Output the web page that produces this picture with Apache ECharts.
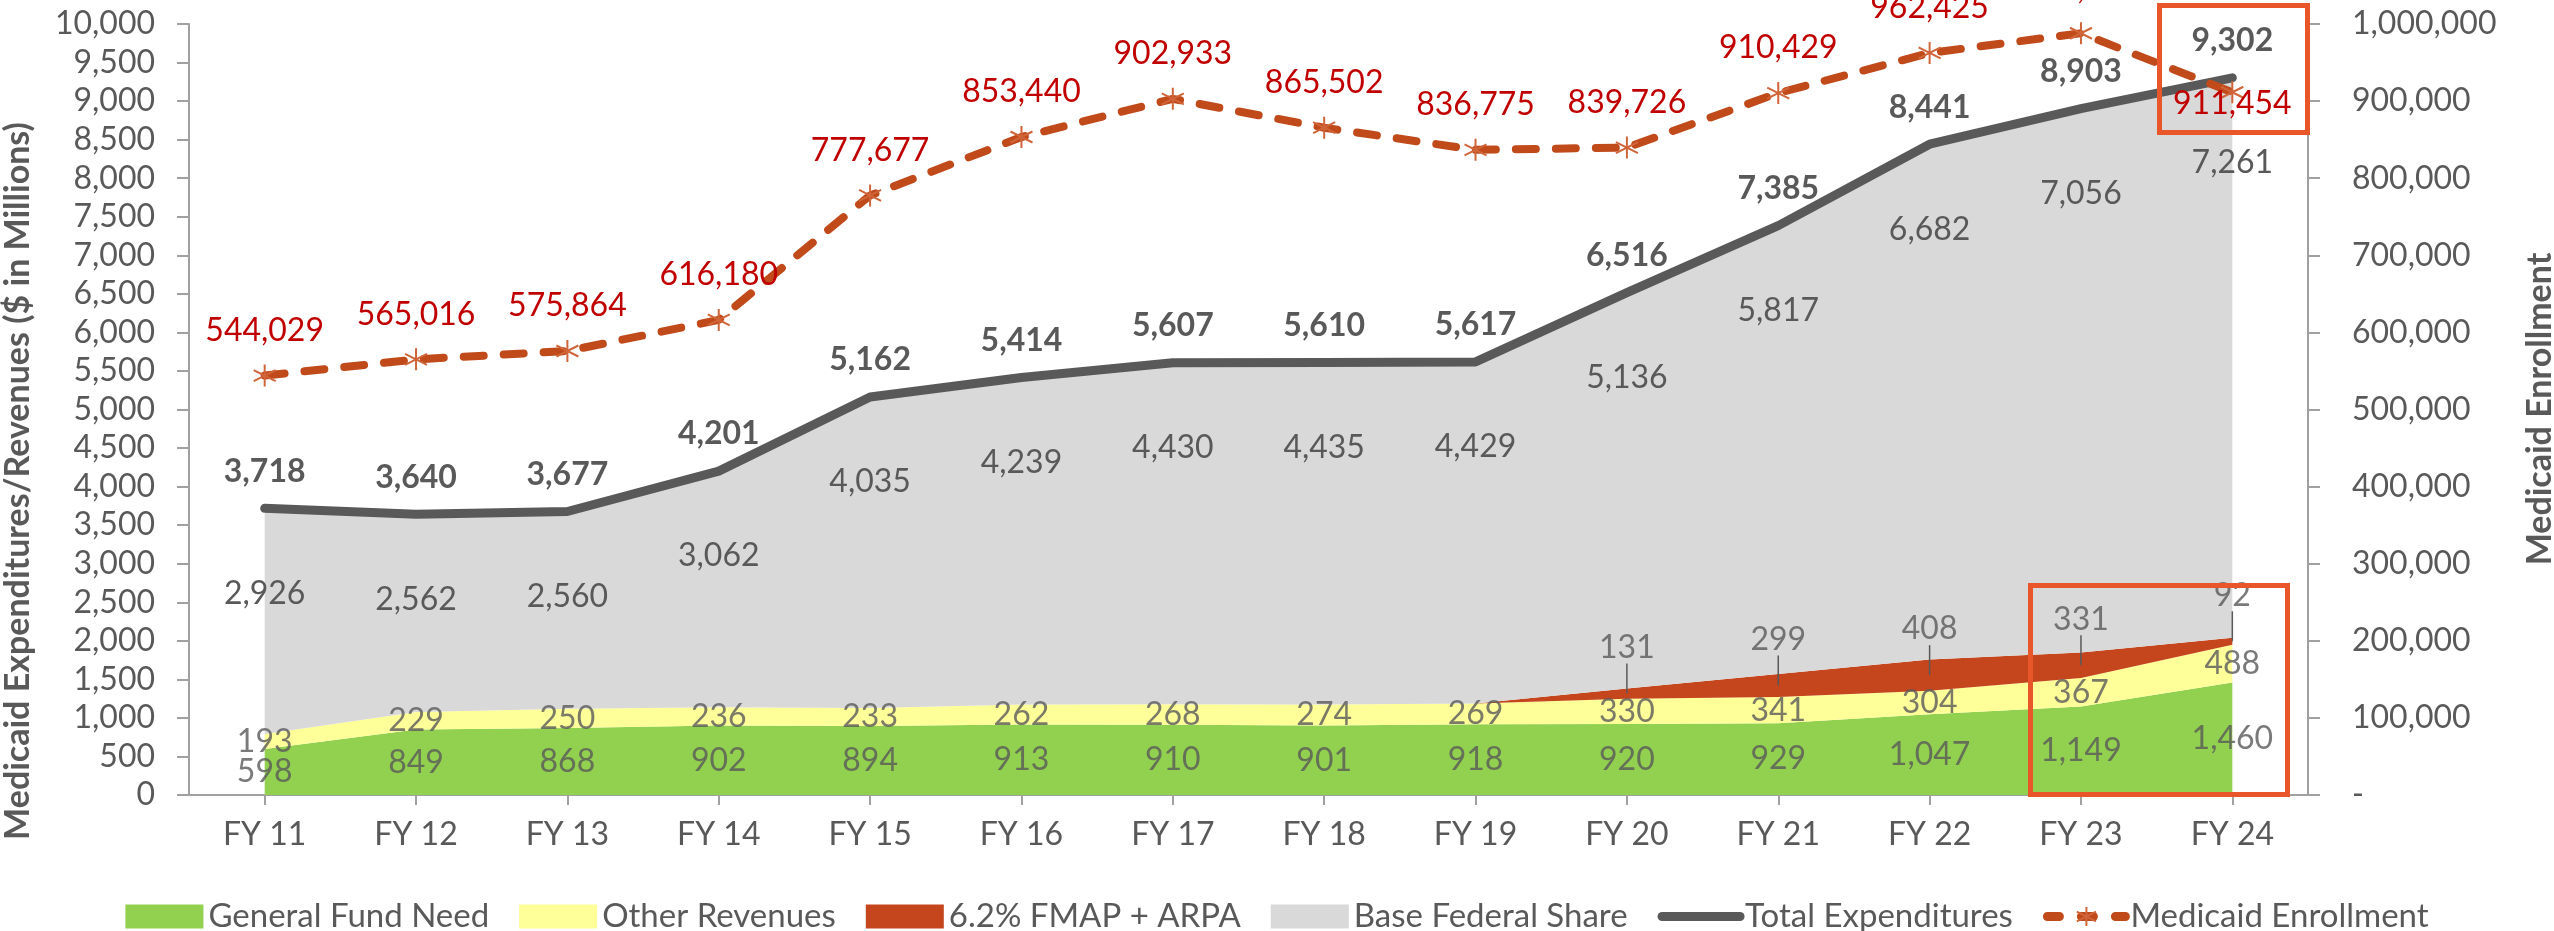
<!DOCTYPE html>
<html>
<head>
<meta charset="utf-8">
<title>Medicaid Expenditures and Enrollment</title>
<script src="https://cdn.jsdelivr.net/npm/echarts@6/dist/echarts.min.js"></script>
<style>
  html, body { margin: 0; padding: 0; background: #fff; }
  #chart { width: 2554px; height: 931px; }
</style>
</head>
<body>
<div id="chart"></div>
<script>
// data
const categories = ['FY 11', 'FY 12', 'FY 13', 'FY 14', 'FY 15', 'FY 16', 'FY 17',
  'FY 18', 'FY 19', 'FY 20', 'FY 21', 'FY 22', 'FY 23', 'FY 24']
const generalFund = [598, 849, 868, 902, 894, 913, 910, 901, 918, 920, 929, 1047, 1149, 1460]
const otherRevenues = [193, 229, 250, 236, 233, 262, 268, 274, 269, 330, 341, 304, 367, 488]
const fmapArpa = [0, 0, 0, 0, 0, 0, 0, 0, 0, 131, 299, 408, 331, 92]
const baseFederal = [2926, 2562, 2560, 3062, 4035, 4239, 4430, 4435, 4429, 5136, 5817, 6682, 7056, 7261]
const totalExp = [3718, 3640, 3677, 4201, 5162, 5414, 5607, 5610, 5617, 6516, 7385, 8441, 8903, 9302]
const enrollment = [544029, 565016, 575864, 616180, 777677, 853440, 902933, 865502, 836775, 839726,
  910429, 962425, 988000, 911454]

const FONT = 'Lato'
const GREY_TEXT = '#595959'
const ENROLL = '#C04A1A'
const fmt = v => Number(v).toLocaleString('en-US')

// label anchors in the middle of each band (derived from the stacks)
const greenMid = generalFund.map((v, i) => [i, v / 2, v])
const yellowMid = otherRevenues.map((v, i) => [i, generalFund[i] + v / 2, v])
const redMid = fmapArpa.map((v, i) => v ? [i, generalFund[i] + otherRevenues[i] + v / 2, v] : null)
  .filter(d => d)

const bandLabel = {
  show: true,
  position: 'inside',
  color: GREY_TEXT,
  fontFamily: FONT,
  fontSize: 32,
  formatter: p => fmt(p.value[2])
}

function areaSeries (name, data, color) {
  return {
    name: name,
    type: 'line',
    stack: 'money',
    data: data,
    symbol: 'circle',
    symbolSize: 0,
    lineStyle: { width: 0 },
    itemStyle: { color: color },
    areaStyle: { color: color, opacity: 1 },
    silent: true,
    z: 1
  }
}

const gray = areaSeries('Base Federal Share', baseFederal, '#D9D9D9')
gray.label = {
  show: true,
  position: 'bottom',
  distance: 69,
  color: GREY_TEXT,
  fontFamily: FONT,
  fontSize: 32,
  formatter: p => fmt(p.value)
}

const chart = echarts.init(document.getElementById('chart'))
chart.setOption({
  animation: false,
  backgroundColor: '#fff',
  textStyle: { fontFamily: FONT },
  grid: { left: 189, right: 246, top: 24, bottom: 136, containLabel: false, outerBoundsMode: 'none' },
  legend: {
    top: 895,
    left: 'center',
    itemWidth: 78,
    itemHeight: 24,
    itemGap: 30,
    textStyle: { fontFamily: FONT, fontSize: 33, color: GREY_TEXT },
    data: [
      { name: 'General Fund Need', icon: 'rect' },
      { name: 'Other Revenues', icon: 'rect' },
      { name: '6.2% FMAP + ARPA', icon: 'rect' },
      { name: 'Base Federal Share', icon: 'rect' },
      {
        name: 'Total Expenditures',
        itemStyle: { color: 'rgba(0,0,0,0)', borderWidth: 0 },
        lineStyle: { color: '#595959', width: 9, cap: 'round' }
      },
      {
        name: 'Medicaid Enrollment',
        itemStyle: { color: ENROLL, borderColor: '#D0653A', borderWidth: 2 },
        lineStyle: { color: ENROLL, width: 9, type: [12, 22], cap: 'round' }
      }
    ]
  },
  xAxis: {
    type: 'category',
    data: categories,
    boundaryGap: true,
    axisLine: { show: true, lineStyle: { color: '#A0A0A0', width: 2 } },
    axisTick: { show: true, alignWithLabel: true, length: 10, lineStyle: { color: '#A0A0A0', width: 2 } },
    axisLabel: { interval: 0, margin: 24, color: GREY_TEXT, fontFamily: FONT, fontSize: 32 },
    splitLine: { show: false }
  },
  yAxis: [
    {
      type: 'value',
      min: 0,
      max: 10000,
      interval: 500,
      axisLine: { show: true, lineStyle: { color: '#A0A0A0', width: 2 } },
      axisTick: { show: true, length: 12, lineStyle: { color: '#A0A0A0', width: 2 } },
      axisLabel: { margin: 34, color: GREY_TEXT, fontFamily: FONT, fontSize: 32, formatter: v => fmt(v) },
      splitLine: { show: false }
    },
    {
      type: 'value',
      position: 'right',
      min: 0,
      max: 1000000,
      interval: 100000,
      axisLine: { show: true, lineStyle: { color: '#A0A0A0', width: 2 } },
      axisTick: { show: true, length: 12, lineStyle: { color: '#A0A0A0', width: 2 } },
      axisLabel: {
        margin: 44,
        color: GREY_TEXT,
        fontFamily: FONT,
        fontSize: 32,
        formatter: v => v === 0 ? '-' : fmt(v)
      },
      splitLine: { show: false }
    }
  ],
  series: [
    areaSeries('General Fund Need', generalFund, '#92D050'),
    areaSeries('Other Revenues', otherRevenues, '#FFFF99'),
    areaSeries('6.2% FMAP + ARPA', fmapArpa, '#C5461C'),
    gray,
    {
      name: 'Total Expenditures',
      type: 'line',
      data: totalExp,
      symbol: 'circle',
      symbolSize: 0,
      lineStyle: { color: '#595959', width: 9, cap: 'round', join: 'round' },
      itemStyle: { color: '#595959' },
      label: {
        show: true,
        position: 'top',
        distance: 21,
        color: GREY_TEXT,
        fontFamily: FONT,
        fontSize: 32,
        fontWeight: 'bold',
        formatter: p => fmt(p.value)
      },
      z: 5
    },
    {
      name: 'Medicaid Enrollment',
      type: 'line',
      yAxisIndex: 1,
      data: enrollment.map((v, i) => i === enrollment.length - 1
        ? { value: v, label: { position: 'inside', offset: [0, 11] } }
        : v),
      symbol: 'path://M10,0 L10,20 M1,5 L19,15 M1,15 L19,5',
      symbolSize: 22,
      itemStyle: { color: ENROLL, borderColor: '#D0653A', borderWidth: 2 },
      lineStyle: { color: ENROLL, width: 8, type: [20, 20], cap: 'round' },
      label: {
        show: true,
        position: 'top',
        distance: 17,
        color: '#C00000',
        fontFamily: FONT,
        fontSize: 32,
        formatter: p => fmt(p.value)
      },
      z: 6
    },
    {
      name: 'gfLabels',
      type: 'scatter',
      data: greenMid,
      symbolSize: 0,
      silent: true,
      label: bandLabel,
      z: 7
    },
    {
      name: 'orLabels',
      type: 'scatter',
      data: yellowMid,
      symbolSize: 0,
      silent: true,
      label: bandLabel,
      z: 7
    },
    {
      name: 'fmapLabels',
      type: 'scatter',
      data: redMid,
      symbolSize: 1,
      silent: true,
      label: bandLabel,
      labelLayout: { dy: -46 },
      labelLine: { show: true, lineStyle: { color: '#595959', width: 1.5 } },
      z: 7
    }
  ],
  graphic: [
    {
      type: 'text',
      x: 18,
      y: 481,
      rotation: Math.PI / 2,
      style: {
        text: 'Medicaid Expenditures/Revenues ($ in Millions)',
        font: 'bold 34px Lato',
        fill: GREY_TEXT,
        align: 'center',
        verticalAlign: 'middle'
      }
    },
    {
      type: 'text',
      x: 2540,
      y: 409,
      rotation: Math.PI / 2,
      style: {
        text: 'Medicaid Enrollment',
        font: 'bold 34px Lato',
        fill: GREY_TEXT,
        align: 'center',
        verticalAlign: 'middle'
      }
    },
    {
      type: 'rect',
      shape: { x: 2159.5, y: 5.5, width: 148, height: 127 },
      style: { fill: 'none', stroke: '#E8562A', lineWidth: 5 },
      z: 100
    },
    {
      type: 'rect',
      shape: { x: 2030.5, y: 585.5, width: 257, height: 209 },
      style: { fill: 'none', stroke: '#E8562A', lineWidth: 5 },
      z: 100
    }
  ]
})
</script>
</body>
</html>
